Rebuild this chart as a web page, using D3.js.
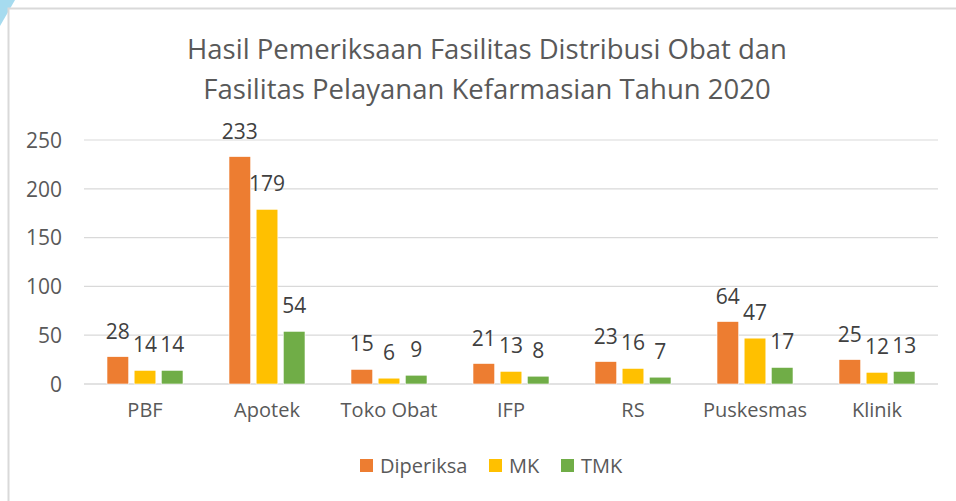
<!DOCTYPE html>
<html>
<head>
<meta charset="utf-8">
<script src="https://cdn.jsdelivr.net/npm/d3@7"></script>
<style>
  body { margin: 0; background: #fff; }
  svg { display: block; font-family: "Open Sans", "Noto Sans", sans-serif; }
</style>
</head>
<body>
<svg id="chart" width="956" height="501"></svg>
<script>
const categories = ["PBF", "Apotek", "Toko Obat", "IFP", "RS", "Puskesmas", "Klinik"];
const seriesNames = ["Diperiksa", "MK", "TMK"];
const diperiksa = [28, 233, 15, 21, 23, 64, 25];
const mk = [14, 179, 6, 13, 16, 47, 12];
const tmk = [14, 54, 9, 8, 7, 17, 13];
const yTicks = [0, 50, 100, 150, 200, 250];
const titleLines = ["Hasil Pemeriksaan Fasilitas Distribusi Obat dan", "Fasilitas Pelayanan Kefarmasian Tahun 2020"];

const colors = { Diperiksa: "#ED7D31", MK: "#FFC000", TMK: "#70AD47" };
const textColor = "#595959";

const svg = d3.select("#chart");

// corner decoration + frame
svg.append("path")
    .attr("d", "M0,0 L15,0 L0,26 Z")
    .attr("fill", "#a6dbef");
svg.append("rect")
    .attr("x", 8.5).attr("y", 8.5)
    .attr("width", 970).attr("height", 510)
    .attr("fill", "#fff")
    .attr("stroke", "#d9d9d9")
    .attr("stroke-width", 2);

// title
svg.append("g").selectAll("text")
    .data(titleLines)
    .join("text")
    .attr("x", 487)
    .attr("y", (d, i) => 59 + i * 40)
    .attr("text-anchor", "middle")
    .attr("font-size", 27.5)
    .attr("fill", textColor)
    .text(d => d);

const x0 = d3.scaleBand().domain(categories).range([84, 938]).padding(0);
const x1 = d3.scaleBand().domain(seriesNames).range([23, 99]).paddingInner(0.2);
const y = d3.scaleLinear().domain([0, 250]).range([384, 140]);

// gridlines
svg.append("g").selectAll("line")
    .data(yTicks)
    .join("line")
    .attr("x1", 84).attr("x2", 938)
    .attr("y1", d => y(d)).attr("y2", d => y(d))
    .attr("stroke", "#d9d9d9")
    .attr("stroke-width", d => d === 0 ? 1.5 : 1.2);

// y axis labels
const yAxis = svg.append("g")
    .attr("transform", "translate(62,0)")
    .call(d3.axisLeft(y).tickValues(yTicks).tickSize(0).tickPadding(0));
yAxis.select(".domain").remove();
yAxis.selectAll("text")
    .attr("font-family", "Open Sans")
    .attr("font-size", 21)
    .attr("fill", textColor)
    .attr("dy", "0.35em");

// x axis labels
const xAxis = svg.append("g")
    .attr("transform", "translate(0,402)")
    .call(d3.axisBottom(x0).tickSize(0).tickPadding(0));
xAxis.select(".domain").remove();
xAxis.selectAll("text")
    .attr("font-family", "Open Sans")
    .attr("font-size", 20)
    .attr("fill", textColor)
    .attr("dy", "0.75em");

const rows = categories.map((c, i) => ({
    category: c,
    values: [
        { key: "Diperiksa", value: diperiksa[i] },
        { key: "MK", value: mk[i] },
        { key: "TMK", value: tmk[i] }
    ]
}));

const groups = svg.append("g").selectAll("g")
    .data(rows)
    .join("g")
    .attr("transform", d => `translate(${x0(d.category)},0)`);

groups.selectAll("rect")
    .data(d => d.values)
    .join("rect")
    .attr("x", d => x1(d.key))
    .attr("y", d => y(d.value))
    .attr("width", x1.bandwidth())
    .attr("height", d => y(0) - y(d.value))
    .attr("fill", d => colors[d.key])
    .attr("stroke", "#fff")
    .attr("stroke-width", 0.6);

groups.selectAll("text")
    .data(d => d.values)
    .join("text")
    .attr("x", d => x1(d.key) + x1.bandwidth() / 2)
    .attr("y", d => y(d.value) - 18)
    .attr("text-anchor", "middle")
    .attr("font-size", 21)
    .attr("fill", "#404040")
    .text(d => d.value);

// legend
const legend = svg.append("g").attr("transform", "translate(0,473)");
const legendX = [360, 489, 561];
const items = legend.selectAll("g")
    .data(seriesNames)
    .join("g")
    .attr("transform", (d, i) => `translate(${legendX[i]},0)`);
items.append("rect")
    .attr("x", 0).attr("y", -14)
    .attr("width", 13).attr("height", 13)
    .attr("fill", d => colors[d]);
items.append("text")
    .attr("x", 20).attr("y", 0)
    .attr("font-size", 20)
    .attr("fill", textColor)
    .text(d => d);
</script>
</body>
</html>
